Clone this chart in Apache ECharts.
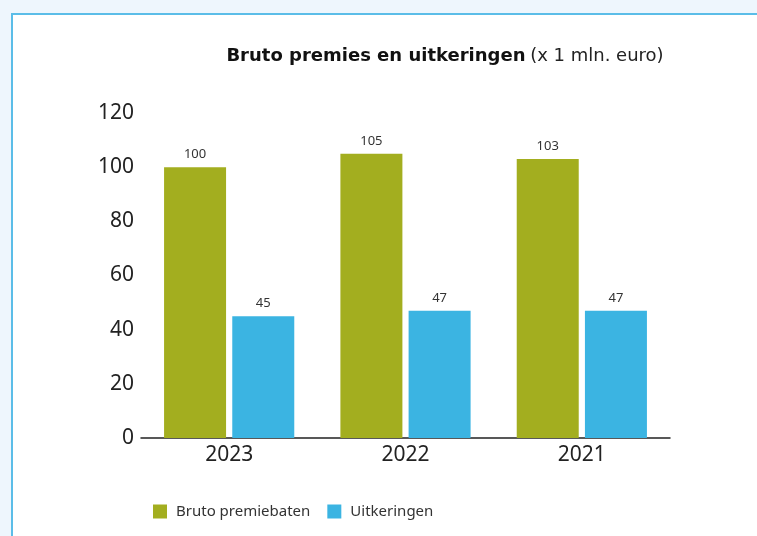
<!DOCTYPE html>
<html style="height: 100%">
<head>
<meta charset="utf-8">
<script src="https://cdn.jsdelivr.net/npm/echarts@6/dist/echarts.min.js"></script>
</head>
<body style="height: 100%; margin: 0; background: #eef6fd; overflow: hidden;">
<div style="position: absolute; left: 11px; top: 13px; width: 800px; height: 600px; background: #fff; border-left: 2px solid #5bbde8; border-top: 2px solid #5bbde8;"></div>
<div id="container" style="position: absolute; left: 0; top: 0; width: 757px; height: 536px;"></div>
<script type="text/javascript">
var years = ['2023', '2022', '2021'];
var premiebaten = [100, 105, 103];
var uitkeringen = [45, 47, 47];
var yTicks = [0, 20, 40, 60, 80, 100, 120];

var myChart = echarts.init(document.getElementById('container'));
var font = 'Noto Sans';
var titleFont = 'DejaVu Sans';

var option = {
    textStyle: { fontFamily: font },
    title: {
        text: '{b|Bruto premies en uitkeringen} {n|(x 1 mln. euro)}',
        left: 440,
        textAlign: 'center',
        top: 42,
        textStyle: {
            rich: {
                b: { fontFamily: titleFont, fontWeight: 'bold', fontSize: 18, color: '#111' },
                n: { fontFamily: titleFont, fontWeight: 'normal', fontSize: 18, color: '#222' }
            }
        }
    },
    legend: {
        left: 148,
        top: 499,
        itemWidth: 14,
        itemHeight: 14,
        itemGap: 17,
        icon: 'rect',
        textStyle: { fontFamily: font, fontSize: 15, color: '#333', padding: [0, 0, 0, 4] },
        data: ['Bruto premiebaten', 'Uitkeringen']
    },
    grid: { left: 141, right: 87, top: 113, bottom: 98, containLabel: false },
    xAxis: {
        type: 'category',
        data: years,
        axisLine: { lineStyle: { color: '#222', width: 1.5 } },
        axisTick: { show: false },
        axisLabel: { fontFamily: font, fontSize: 21, color: '#222', margin: 7 }
    },
    yAxis: {
        type: 'value',
        min: yTicks[0],
        max: yTicks[yTicks.length - 1],
        interval: 20,
        axisLine: { show: false },
        axisTick: { show: false },
        splitLine: { show: false },
        axisLabel: { fontFamily: font, fontSize: 21, color: '#222', margin: 7 }
    },
    series: [
        {
            name: 'Bruto premiebaten',
            type: 'bar',
            data: premiebaten,
            barWidth: 62,
            barGap: '10%',
            itemStyle: { color: '#a3ae1f' },
            label: { show: true, position: 'top', distance: 6, fontFamily: font, fontSize: 13, color: '#333' }
        },
        {
            name: 'Uitkeringen',
            type: 'bar',
            data: uitkeringen,
            barWidth: 62,
            itemStyle: { color: '#3bb4e2' },
            label: { show: true, position: 'top', distance: 6, fontFamily: font, fontSize: 13, color: '#333' }
        }
    ]
};
myChart.setOption(option);
</script>
</body>
</html>
